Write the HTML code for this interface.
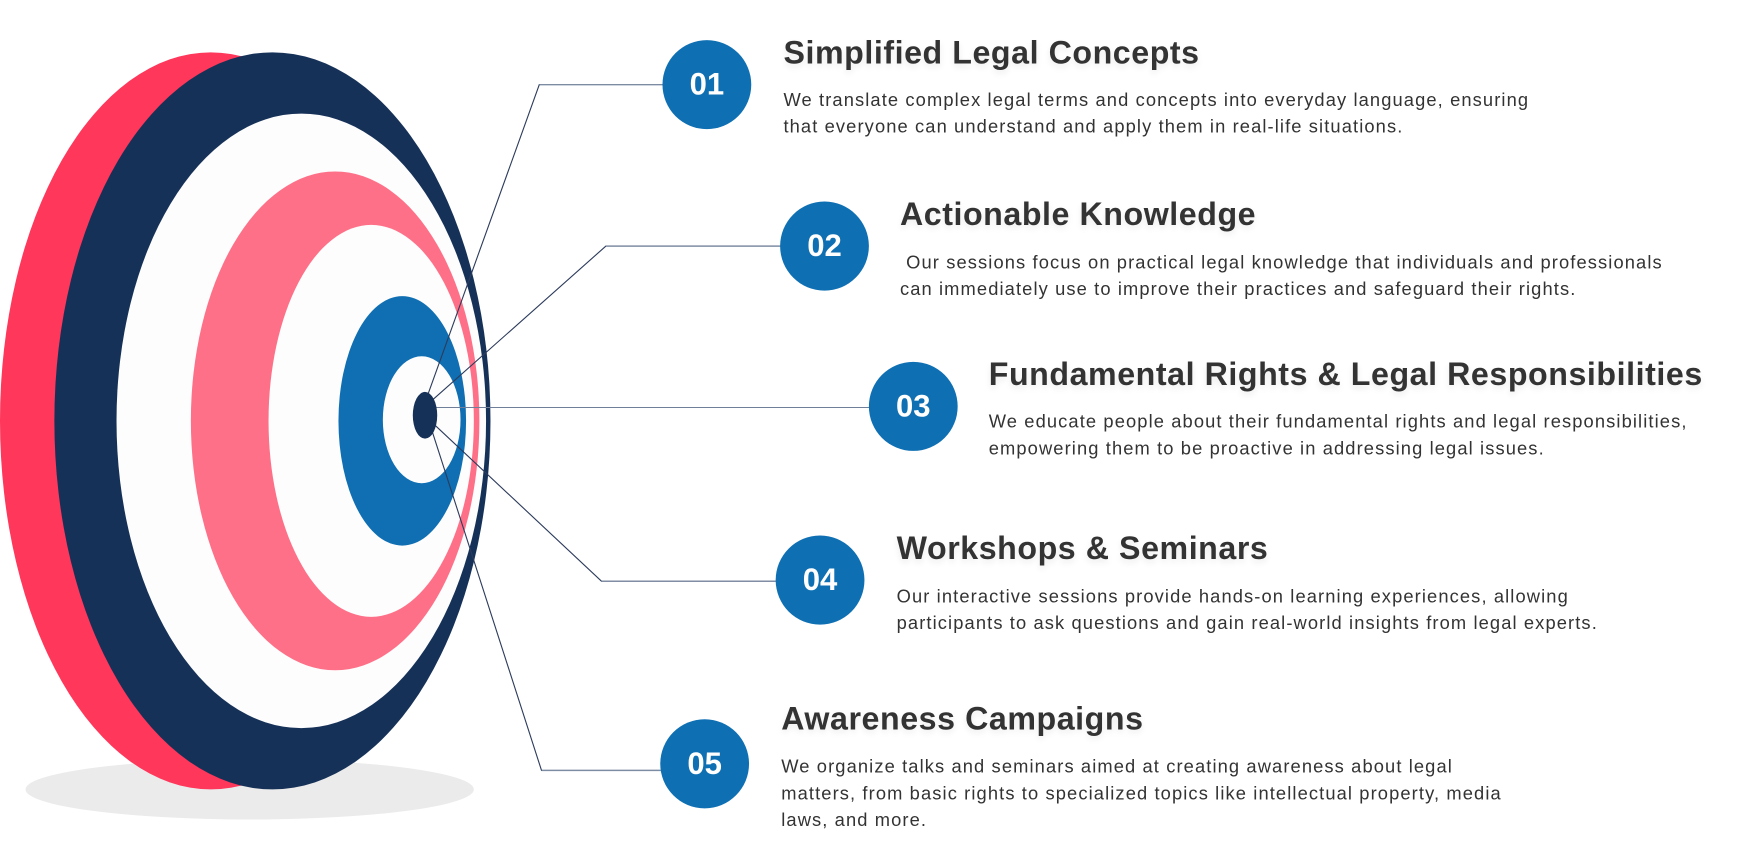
<!DOCTYPE html>
<html><head><meta charset="utf-8"><style>
html,body{margin:0;padding:0;background:#fff;width:1740px;height:864px;overflow:hidden}
#w{position:absolute;left:0;top:0;width:1568px;height:776px;transform:scale(1.10969,1.11340);transform-origin:0 0}
svg{position:absolute;left:0;top:0}
.t{position:absolute;font-family:"Liberation Sans",sans-serif;font-weight:bold;font-size:29px;color:#333;white-space:nowrap;line-height:32px;letter-spacing:0.5px;text-shadow:0 3px 6px rgba(0,0,0,0.08)}
.b{position:absolute;font-family:"Liberation Sans",sans-serif;font-size:16.5px;color:#333;white-space:pre;line-height:24px;letter-spacing:1px}
.n{position:absolute;width:80px;height:80px;border-radius:50%;background:#0e6fb3;color:#fff;font-family:"Liberation Sans",sans-serif;font-weight:bold;font-size:28px;line-height:80px;text-align:center}
</style></head><body><div id="w">
<svg width="1568" height="776" viewBox="0 0 1568 776">
<ellipse cx="225" cy="709" rx="202" ry="27" fill="#ebebeb"/>
<ellipse cx="190" cy="378" rx="190" ry="331" fill="#fe375b"/>
<ellipse cx="245.5" cy="378" rx="196.5" ry="331" fill="#163158"/>
<ellipse cx="271.5" cy="378" rx="166.5" ry="276" fill="#fdfdfd"/>
<ellipse cx="302" cy="378" rx="130" ry="224" fill="#fe7088"/>
<ellipse cx="334.5" cy="378" rx="92.5" ry="176" fill="#fdfdfd"/>
<ellipse cx="362.5" cy="378" rx="57.5" ry="112" fill="#0f6fb2"/>
<ellipse cx="380" cy="377" rx="35" ry="57" fill="#fdfdfd"/>
<g fill="none" stroke-width="1">
<polyline points="385,356 486,76 600,76" stroke="#2c3b5c"/>
<polyline points="390,359 546,221 706,221" stroke="#2c3b5c"/>
<line x1="390" y1="366" x2="786" y2="366" stroke="#6f7f99"/>
<polyline points="391,381 542,522 702,522" stroke="#2c3b5c"/>
<polyline points="389,386 488,692 598,692" stroke="#2c3b5c"/>
</g>
<g stroke="#7d8ba3" stroke-width="1.2"><line x1="486" y1="76" x2="600" y2="76"/><line x1="546" y1="221" x2="706" y2="221"/><line x1="542" y1="522" x2="702" y2="522"/><line x1="488" y1="692" x2="598" y2="692"/></g>
<ellipse cx="383" cy="373" rx="11" ry="21" fill="#163158"/>
</svg>
<div class="n" style="left:597px;top:36px">01</div>
<div class="n" style="left:703px;top:181px">02</div>
<div class="n" style="left:783px;top:325px">03</div>
<div class="n" style="left:699px;top:481px">04</div>
<div class="n" style="left:595px;top:646px">05</div>
<div class="t" style="left:706px;top:32px">Simplified Legal Concepts</div>
<div class="b" style="left:706px;top:78px">We translate complex legal terms and concepts into everyday language, ensuring
that everyone can understand and apply them in real-life situations.</div>
<div class="t" style="left:811px;top:177px">Actionable Knowledge</div>
<div class="b" style="left:811px;top:224px"> Our sessions focus on practical legal knowledge that individuals and professionals
can immediately use to improve their practices and safeguard their rights.</div>
<div class="t" style="left:891px;top:321px">Fundamental Rights &amp; Legal Responsibilities</div>
<div class="b" style="left:891px;top:367px">We educate people about their fundamental rights and legal responsibilities,
empowering them to be proactive in addressing legal issues.</div>
<div class="t" style="left:808px;top:477px">Workshops &amp; Seminars</div>
<div class="b" style="left:808px;top:524px">Our interactive sessions provide hands-on learning experiences, allowing
participants to ask questions and gain real-world insights from legal experts.</div>
<div class="t" style="left:704px;top:630px">Awareness Campaigns</div>
<div class="b" style="left:704px;top:677px">We organize talks and seminars aimed at creating awareness about legal
matters, from basic rights to specialized topics like intellectual property, media
laws, and more.</div>
</div></body></html>
